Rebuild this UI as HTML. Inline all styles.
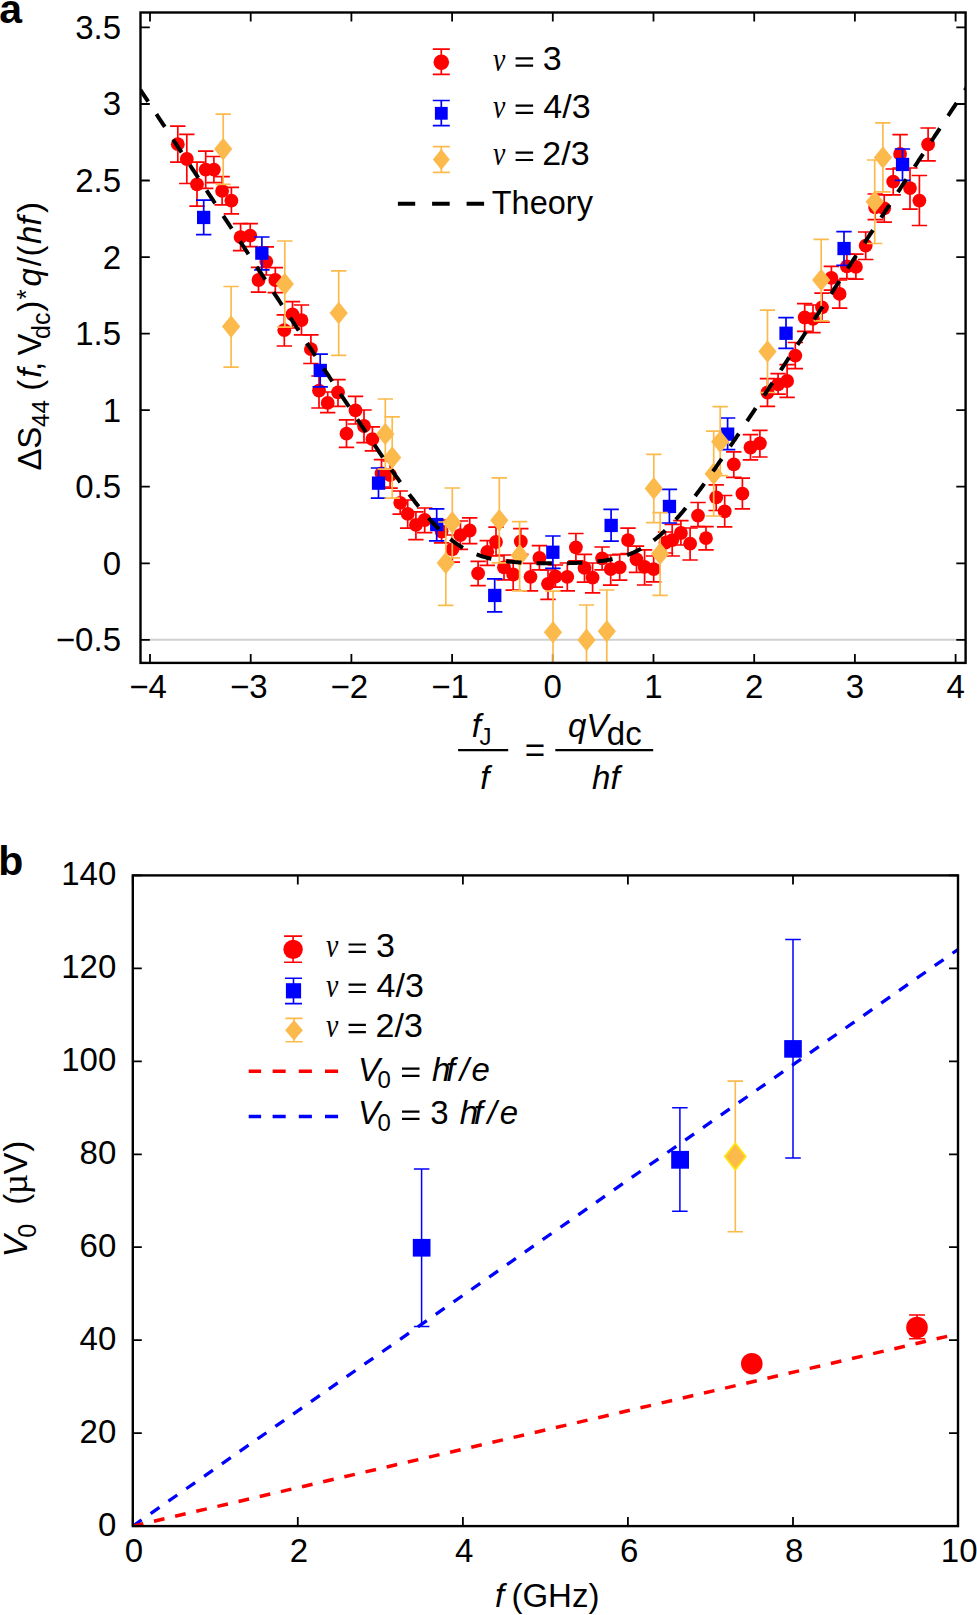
<!DOCTYPE html><html><head><meta charset="utf-8"><style>html,body{margin:0;padding:0;background:#fff;overflow:hidden}svg{display:block}</style></head><body>
<svg width="977" height="1615" viewBox="0 0 977 1615">
<rect width="977" height="1615" fill="#fff"/>
<defs><clipPath id="ca"><rect x="140.5" y="12.5" width="825.1" height="650.4"/></clipPath><clipPath id="cb"><rect x="132.8" y="875.4" width="825.2" height="650.6999999999999"/></clipPath></defs>
<line x1="140.5" y1="639.8" x2="965.6" y2="639.8" stroke="#d0d0d0" stroke-width="2"/>
<path d="M150.0 662.9v-9M150.0 12.5v9M250.7 662.9v-9M250.7 12.5v9M351.4 662.9v-9M351.4 12.5v9M452.1 662.9v-9M452.1 12.5v9M552.8 662.9v-9M552.8 12.5v9M653.5 662.9v-9M653.5 12.5v9M754.2 662.9v-9M754.2 12.5v9M854.9 662.9v-9M854.9 12.5v9M955.6 662.9v-9M955.6 12.5v9M140.5 639.8h9.3M965.6 639.8h-9.3M140.5 563.3h9.3M965.6 563.3h-9.3M140.5 486.7h9.3M965.6 486.7h-9.3M140.5 410.2h9.3M965.6 410.2h-9.3M140.5 333.6h9.3M965.6 333.6h-9.3M140.5 257.1h9.3M965.6 257.1h-9.3M140.5 180.5h9.3M965.6 180.5h-9.3M140.5 104.0h9.3M965.6 104.0h-9.3M140.5 27.4h9.3M965.6 27.4h-9.3" stroke="#000" stroke-width="1.8" fill="none"/>
<g clip-path="url(#ca)">
<path d="M177.8 126.2V162.2M170.1 126.2H185.5M170.1 162.2H185.5" stroke="#ff0000" stroke-width="1.7" fill="none"/>
<path d="M186.8 134.4V183.5M179.1 134.4H194.5M179.1 183.5H194.5" stroke="#ff0000" stroke-width="1.7" fill="none"/>
<path d="M197.0 162.2V206.1M189.3 162.2H204.7M189.3 206.1H204.7" stroke="#ff0000" stroke-width="1.7" fill="none"/>
<path d="M205.7 151.1V188.4M198.0 151.1H213.4M198.0 188.4H213.4" stroke="#ff0000" stroke-width="1.7" fill="none"/>
<path d="M213.9 156.5V182.7M206.2 156.5H221.6M206.2 182.7H221.6" stroke="#ff0000" stroke-width="1.7" fill="none"/>
<path d="M222.1 176.6V204.8M214.4 176.6H229.8M214.4 204.8H229.8" stroke="#ff0000" stroke-width="1.7" fill="none"/>
<path d="M231.4 187.3V213.8M223.7 187.3H239.1M223.7 213.8H239.1" stroke="#ff0000" stroke-width="1.7" fill="none"/>
<path d="M240.6 223.6V250.7M232.9 223.6H248.3M232.9 250.7H248.3" stroke="#ff0000" stroke-width="1.7" fill="none"/>
<path d="M250.2 223.6V246.6M242.5 223.6H257.9M242.5 246.6H257.9" stroke="#ff0000" stroke-width="1.7" fill="none"/>
<path d="M266.3 246.9V275.0M258.6 246.9H274.0M258.6 275.0H274.0" stroke="#ff0000" stroke-width="1.7" fill="none"/>
<path d="M258.5 267.3V292.2M250.8 267.3H266.2M250.8 292.2H266.2" stroke="#ff0000" stroke-width="1.7" fill="none"/>
<path d="M275.3 267.7V292.7M267.6 267.7H283.0M267.6 292.7H283.0" stroke="#ff0000" stroke-width="1.7" fill="none"/>
<path d="M292.5 301.7V328.0M284.8 301.7H300.2M284.8 328.0H300.2" stroke="#ff0000" stroke-width="1.7" fill="none"/>
<path d="M301.5 305.0V334.8M293.8 305.0H309.2M293.8 334.8H309.2" stroke="#ff0000" stroke-width="1.7" fill="none"/>
<path d="M284.3 314.8V346.0M276.6 314.8H292.0M276.6 346.0H292.0" stroke="#ff0000" stroke-width="1.7" fill="none"/>
<path d="M310.9 334.8V363.5M303.2 334.8H318.6M303.2 363.5H318.6" stroke="#ff0000" stroke-width="1.7" fill="none"/>
<path d="M319.0 376.0V408.0M311.3 376.0H326.7M311.3 408.0H326.7" stroke="#ff0000" stroke-width="1.7" fill="none"/>
<path d="M327.7 392.0V412.7M320.0 392.0H335.4M320.0 412.7H335.4" stroke="#ff0000" stroke-width="1.7" fill="none"/>
<path d="M338.0 379.7V406.3M330.3 379.7H345.7M330.3 406.3H345.7" stroke="#ff0000" stroke-width="1.7" fill="none"/>
<path d="M355.5 396.4V424.0M347.8 396.4H363.2M347.8 424.0H363.2" stroke="#ff0000" stroke-width="1.7" fill="none"/>
<path d="M346.5 419.8V447.3M338.8 419.8H354.2M338.8 447.3H354.2" stroke="#ff0000" stroke-width="1.7" fill="none"/>
<path d="M364.0 410.0V442.7M356.3 410.0H371.7M356.3 442.7H371.7" stroke="#ff0000" stroke-width="1.7" fill="none"/>
<path d="M372.4 426.8V450.9M364.7 426.8H380.1M364.7 450.9H380.1" stroke="#ff0000" stroke-width="1.7" fill="none"/>
<path d="M381.5 459.7V487.0M373.8 459.7H389.2M373.8 487.0H389.2" stroke="#ff0000" stroke-width="1.7" fill="none"/>
<path d="M390.1 461.0V488.2M382.4 461.0H397.8M382.4 488.2H397.8" stroke="#ff0000" stroke-width="1.7" fill="none"/>
<path d="M400.2 491.0V514.2M392.5 491.0H407.9M392.5 514.2H407.9" stroke="#ff0000" stroke-width="1.7" fill="none"/>
<path d="M407.7 500.0V528.1M400.0 500.0H415.4M400.0 528.1H415.4" stroke="#ff0000" stroke-width="1.7" fill="none"/>
<path d="M415.9 511.8V539.6M408.2 511.8H423.6M408.2 539.6H423.6" stroke="#ff0000" stroke-width="1.7" fill="none"/>
<path d="M424.7 508.0V532.7M417.0 508.0H432.4M417.0 532.7H432.4" stroke="#ff0000" stroke-width="1.7" fill="none"/>
<path d="M441.6 520.0V542.9M433.9 520.0H449.3M433.9 542.9H449.3" stroke="#ff0000" stroke-width="1.7" fill="none"/>
<path d="M452.3 535.0V562.2M444.6 535.0H460.0M444.6 562.2H460.0" stroke="#ff0000" stroke-width="1.7" fill="none"/>
<path d="M460.4 521.0V549.4M452.7 521.0H468.1M452.7 549.4H468.1" stroke="#ff0000" stroke-width="1.7" fill="none"/>
<path d="M469.7 517.8V543.7M462.0 517.8H477.4M462.0 543.7H477.4" stroke="#ff0000" stroke-width="1.7" fill="none"/>
<path d="M478.1 561.4V585.7M470.4 561.4H485.8M470.4 585.7H485.8" stroke="#ff0000" stroke-width="1.7" fill="none"/>
<path d="M487.3 540.7V565.4M479.6 540.7H495.0M479.6 565.4H495.0" stroke="#ff0000" stroke-width="1.7" fill="none"/>
<path d="M496.0 527.2V555.8M488.3 527.2H503.7M488.3 555.8H503.7" stroke="#ff0000" stroke-width="1.7" fill="none"/>
<path d="M504.0 555.0V579.8M496.3 555.0H511.7M496.3 579.8H511.7" stroke="#ff0000" stroke-width="1.7" fill="none"/>
<path d="M513.2 560.0V590.2M505.5 560.0H520.9M505.5 590.2H520.9" stroke="#ff0000" stroke-width="1.7" fill="none"/>
<path d="M520.8 528.7V554.3M513.1 528.7H528.5M513.1 554.3H528.5" stroke="#ff0000" stroke-width="1.7" fill="none"/>
<path d="M530.5 563.4V590.9M522.8 563.4H538.2M522.8 590.9H538.2" stroke="#ff0000" stroke-width="1.7" fill="none"/>
<path d="M539.4 545.7V569.9M531.7 545.7H547.1M531.7 569.9H547.1" stroke="#ff0000" stroke-width="1.7" fill="none"/>
<path d="M548.0 570.0V599.4M540.3 570.0H555.7M540.3 599.4H555.7" stroke="#ff0000" stroke-width="1.7" fill="none"/>
<path d="M555.4 565.0V587.1M547.7 565.0H563.1M547.7 587.1H563.1" stroke="#ff0000" stroke-width="1.7" fill="none"/>
<path d="M567.3 563.0V590.9M559.6 563.0H575.0M559.6 590.9H575.0" stroke="#ff0000" stroke-width="1.7" fill="none"/>
<path d="M575.9 533.5V560.9M568.2 533.5H583.6M568.2 560.9H583.6" stroke="#ff0000" stroke-width="1.7" fill="none"/>
<path d="M584.5 554.3V582.2M576.8 554.3H592.2M576.8 582.2H592.2" stroke="#ff0000" stroke-width="1.7" fill="none"/>
<path d="M592.6 563.0V592.8M584.9 563.0H600.3M584.9 592.8H600.3" stroke="#ff0000" stroke-width="1.7" fill="none"/>
<path d="M602.1 547.0V569.9M594.4 547.0H609.8M594.4 569.9H609.8" stroke="#ff0000" stroke-width="1.7" fill="none"/>
<path d="M610.7 555.0V585.1M603.0 555.0H618.4M603.0 585.1H618.4" stroke="#ff0000" stroke-width="1.7" fill="none"/>
<path d="M619.7 554.3V580.2M612.0 554.3H627.4M612.0 580.2H627.4" stroke="#ff0000" stroke-width="1.7" fill="none"/>
<path d="M628.0 528.1V553.5M620.3 528.1H635.7M620.3 553.5H635.7" stroke="#ff0000" stroke-width="1.7" fill="none"/>
<path d="M636.5 546.2V572.4M628.8 546.2H644.2M628.8 572.4H644.2" stroke="#ff0000" stroke-width="1.7" fill="none"/>
<path d="M644.6 549.9V585.0M636.9 549.9H652.3M636.9 585.0H652.3" stroke="#ff0000" stroke-width="1.7" fill="none"/>
<path d="M653.7 556.0V581.8M646.0 556.0H661.4M646.0 581.8H661.4" stroke="#ff0000" stroke-width="1.7" fill="none"/>
<path d="M665.5 532.0V553.0M657.8 532.0H673.2M657.8 553.0H673.2" stroke="#ff0000" stroke-width="1.7" fill="none"/>
<path d="M672.2 524.3V556.0M664.5 524.3H679.9M664.5 556.0H679.9" stroke="#ff0000" stroke-width="1.7" fill="none"/>
<path d="M680.9 520.6V545.0M673.2 520.6H688.6M673.2 545.0H688.6" stroke="#ff0000" stroke-width="1.7" fill="none"/>
<path d="M690.1 528.0V560.0M682.4 528.0H697.8M682.4 560.0H697.8" stroke="#ff0000" stroke-width="1.7" fill="none"/>
<path d="M706.0 526.7V549.9M698.3 526.7H713.7M698.3 549.9H713.7" stroke="#ff0000" stroke-width="1.7" fill="none"/>
<path d="M698.0 502.5V526.6M690.3 502.5H705.7M690.3 526.6H705.7" stroke="#ff0000" stroke-width="1.7" fill="none"/>
<path d="M716.2 484.8V510.5M708.5 484.8H723.9M708.5 510.5H723.9" stroke="#ff0000" stroke-width="1.7" fill="none"/>
<path d="M724.7 495.5V526.9M717.0 495.5H732.4M717.0 526.9H732.4" stroke="#ff0000" stroke-width="1.7" fill="none"/>
<path d="M742.4 478.1V508.9M734.7 478.1H750.1M734.7 508.9H750.1" stroke="#ff0000" stroke-width="1.7" fill="none"/>
<path d="M733.8 451.9V477.3M726.1 451.9H741.5M726.1 477.3H741.5" stroke="#ff0000" stroke-width="1.7" fill="none"/>
<path d="M750.5 434.7V459.8M742.8 434.7H758.2M742.8 459.8H758.2" stroke="#ff0000" stroke-width="1.7" fill="none"/>
<path d="M759.9 430.3V457.0M752.2 430.3H767.6M752.2 457.0H767.6" stroke="#ff0000" stroke-width="1.7" fill="none"/>
<path d="M767.5 378.6V406.4M759.8 378.6H775.2M759.8 406.4H775.2" stroke="#ff0000" stroke-width="1.7" fill="none"/>
<path d="M778.1 373.6V394.1M770.4 373.6H785.8M770.4 394.1H785.8" stroke="#ff0000" stroke-width="1.7" fill="none"/>
<path d="M787.1 364.6V397.4M779.4 364.6H794.8M779.4 397.4H794.8" stroke="#ff0000" stroke-width="1.7" fill="none"/>
<path d="M795.3 342.5V368.7M787.6 342.5H803.0M787.6 368.7H803.0" stroke="#ff0000" stroke-width="1.7" fill="none"/>
<path d="M804.7 303.7V331.4M797.0 303.7H812.4M797.0 331.4H812.4" stroke="#ff0000" stroke-width="1.7" fill="none"/>
<path d="M813.0 305.0V332.7M805.3 305.0H820.7M805.3 332.7H820.7" stroke="#ff0000" stroke-width="1.7" fill="none"/>
<path d="M822.0 293.1V322.1M814.3 293.1H829.7M814.3 322.1H829.7" stroke="#ff0000" stroke-width="1.7" fill="none"/>
<path d="M831.4 266.4V290.1M823.7 266.4H839.1M823.7 290.1H839.1" stroke="#ff0000" stroke-width="1.7" fill="none"/>
<path d="M839.6 280.0V308.1M831.9 280.0H847.3M831.9 308.1H847.3" stroke="#ff0000" stroke-width="1.7" fill="none"/>
<path d="M846.9 254.0V278.7M839.2 254.0H854.6M839.2 278.7H854.6" stroke="#ff0000" stroke-width="1.7" fill="none"/>
<path d="M855.9 254.1V279.2M848.2 254.1H863.6M848.2 279.2H863.6" stroke="#ff0000" stroke-width="1.7" fill="none"/>
<path d="M865.7 232.0V259.5M858.0 232.0H873.4M858.0 259.5H873.4" stroke="#ff0000" stroke-width="1.7" fill="none"/>
<path d="M875.2 194.0V219.7M867.5 194.0H882.9M867.5 219.7H882.9" stroke="#ff0000" stroke-width="1.7" fill="none"/>
<path d="M884.2 194.8V222.2M876.5 194.8H891.9M876.5 222.2H891.9" stroke="#ff0000" stroke-width="1.7" fill="none"/>
<path d="M893.2 169.0V194.8M885.5 169.0H900.9M885.5 194.8H900.9" stroke="#ff0000" stroke-width="1.7" fill="none"/>
<path d="M900.1 134.6V168.0M892.4 134.6H907.8M892.4 168.0H907.8" stroke="#ff0000" stroke-width="1.7" fill="none"/>
<path d="M910.0 168.0V209.1M902.3 168.0H917.7M902.3 209.1H917.7" stroke="#ff0000" stroke-width="1.7" fill="none"/>
<path d="M919.4 175.5V225.5M911.7 175.5H927.1M911.7 225.5H927.1" stroke="#ff0000" stroke-width="1.7" fill="none"/>
<path d="M928.1 128.0V160.8M920.4 128.0H935.8M920.4 160.8H935.8" stroke="#ff0000" stroke-width="1.7" fill="none"/>
<circle cx="177.8" cy="144.2" r="6.9" fill="#ff0000"/>
<circle cx="186.8" cy="159.0" r="6.9" fill="#ff0000"/>
<circle cx="197.0" cy="184.3" r="6.9" fill="#ff0000"/>
<circle cx="205.7" cy="169.6" r="6.9" fill="#ff0000"/>
<circle cx="213.9" cy="169.6" r="6.9" fill="#ff0000"/>
<circle cx="222.1" cy="190.9" r="6.9" fill="#ff0000"/>
<circle cx="231.4" cy="200.7" r="6.9" fill="#ff0000"/>
<circle cx="240.6" cy="237.2" r="6.9" fill="#ff0000"/>
<circle cx="250.2" cy="235.6" r="6.9" fill="#ff0000"/>
<circle cx="266.3" cy="261.6" r="6.9" fill="#ff0000"/>
<circle cx="258.5" cy="280.0" r="6.9" fill="#ff0000"/>
<circle cx="275.3" cy="280.0" r="6.9" fill="#ff0000"/>
<circle cx="292.5" cy="314.3" r="6.9" fill="#ff0000"/>
<circle cx="301.5" cy="320.1" r="6.9" fill="#ff0000"/>
<circle cx="284.3" cy="330.2" r="6.9" fill="#ff0000"/>
<circle cx="310.9" cy="349.2" r="6.9" fill="#ff0000"/>
<circle cx="319.0" cy="390.6" r="6.9" fill="#ff0000"/>
<circle cx="327.7" cy="402.9" r="6.9" fill="#ff0000"/>
<circle cx="338.0" cy="392.3" r="6.9" fill="#ff0000"/>
<circle cx="355.5" cy="410.4" r="6.9" fill="#ff0000"/>
<circle cx="346.5" cy="433.7" r="6.9" fill="#ff0000"/>
<circle cx="364.0" cy="426.0" r="6.9" fill="#ff0000"/>
<circle cx="372.4" cy="439.1" r="6.9" fill="#ff0000"/>
<circle cx="381.5" cy="473.5" r="6.9" fill="#ff0000"/>
<circle cx="390.1" cy="475.0" r="6.9" fill="#ff0000"/>
<circle cx="400.2" cy="502.8" r="6.9" fill="#ff0000"/>
<circle cx="407.7" cy="513.9" r="6.9" fill="#ff0000"/>
<circle cx="415.9" cy="524.9" r="6.9" fill="#ff0000"/>
<circle cx="424.7" cy="520.0" r="6.9" fill="#ff0000"/>
<circle cx="441.6" cy="531.5" r="6.9" fill="#ff0000"/>
<circle cx="452.3" cy="549.3" r="6.9" fill="#ff0000"/>
<circle cx="460.4" cy="535.2" r="6.9" fill="#ff0000"/>
<circle cx="469.7" cy="530.5" r="6.9" fill="#ff0000"/>
<circle cx="478.1" cy="573.4" r="6.9" fill="#ff0000"/>
<circle cx="487.3" cy="551.8" r="6.9" fill="#ff0000"/>
<circle cx="496.0" cy="542.0" r="6.9" fill="#ff0000"/>
<circle cx="504.0" cy="567.4" r="6.9" fill="#ff0000"/>
<circle cx="513.2" cy="574.5" r="6.9" fill="#ff0000"/>
<circle cx="520.8" cy="541.5" r="6.9" fill="#ff0000"/>
<circle cx="530.5" cy="576.8" r="6.9" fill="#ff0000"/>
<circle cx="539.4" cy="557.9" r="6.9" fill="#ff0000"/>
<circle cx="548.0" cy="583.8" r="6.9" fill="#ff0000"/>
<circle cx="555.4" cy="576.5" r="6.9" fill="#ff0000"/>
<circle cx="567.3" cy="576.8" r="6.9" fill="#ff0000"/>
<circle cx="575.9" cy="547.3" r="6.9" fill="#ff0000"/>
<circle cx="584.5" cy="567.9" r="6.9" fill="#ff0000"/>
<circle cx="592.6" cy="577.6" r="6.9" fill="#ff0000"/>
<circle cx="602.1" cy="558.4" r="6.9" fill="#ff0000"/>
<circle cx="610.7" cy="569.1" r="6.9" fill="#ff0000"/>
<circle cx="619.7" cy="567.4" r="6.9" fill="#ff0000"/>
<circle cx="628.0" cy="540.1" r="6.9" fill="#ff0000"/>
<circle cx="636.5" cy="559.4" r="6.9" fill="#ff0000"/>
<circle cx="644.6" cy="566.9" r="6.9" fill="#ff0000"/>
<circle cx="653.7" cy="569.2" r="6.9" fill="#ff0000"/>
<circle cx="665.5" cy="542.7" r="6.9" fill="#ff0000"/>
<circle cx="672.2" cy="540.2" r="6.9" fill="#ff0000"/>
<circle cx="680.9" cy="533.0" r="6.9" fill="#ff0000"/>
<circle cx="690.1" cy="543.7" r="6.9" fill="#ff0000"/>
<circle cx="706.0" cy="538.2" r="6.9" fill="#ff0000"/>
<circle cx="698.0" cy="515.6" r="6.9" fill="#ff0000"/>
<circle cx="716.2" cy="497.4" r="6.9" fill="#ff0000"/>
<circle cx="724.7" cy="511.4" r="6.9" fill="#ff0000"/>
<circle cx="742.4" cy="493.7" r="6.9" fill="#ff0000"/>
<circle cx="733.8" cy="464.4" r="6.9" fill="#ff0000"/>
<circle cx="750.5" cy="447.5" r="6.9" fill="#ff0000"/>
<circle cx="759.9" cy="443.4" r="6.9" fill="#ff0000"/>
<circle cx="767.5" cy="392.5" r="6.9" fill="#ff0000"/>
<circle cx="778.1" cy="384.3" r="6.9" fill="#ff0000"/>
<circle cx="787.1" cy="381.0" r="6.9" fill="#ff0000"/>
<circle cx="795.3" cy="355.6" r="6.9" fill="#ff0000"/>
<circle cx="804.7" cy="317.5" r="6.9" fill="#ff0000"/>
<circle cx="813.0" cy="318.8" r="6.9" fill="#ff0000"/>
<circle cx="822.0" cy="307.3" r="6.9" fill="#ff0000"/>
<circle cx="831.4" cy="277.8" r="6.9" fill="#ff0000"/>
<circle cx="839.6" cy="293.9" r="6.9" fill="#ff0000"/>
<circle cx="846.9" cy="266.4" r="6.9" fill="#ff0000"/>
<circle cx="855.9" cy="266.9" r="6.9" fill="#ff0000"/>
<circle cx="865.7" cy="245.6" r="6.9" fill="#ff0000"/>
<circle cx="875.2" cy="207.4" r="6.9" fill="#ff0000"/>
<circle cx="884.2" cy="208.3" r="6.9" fill="#ff0000"/>
<circle cx="893.2" cy="181.6" r="6.9" fill="#ff0000"/>
<circle cx="900.1" cy="153.9" r="6.9" fill="#ff0000"/>
<circle cx="910.0" cy="188.1" r="6.9" fill="#ff0000"/>
<circle cx="919.4" cy="200.6" r="6.9" fill="#ff0000"/>
<circle cx="928.1" cy="144.4" r="6.9" fill="#ff0000"/>
<path d="M203.7 200.2V234.6M196.0 200.2H211.4M196.0 234.6H211.4" stroke="#0000ff" stroke-width="1.7" fill="none"/>
<rect x="197.0" y="210.8" width="13.3" height="13.3" fill="#0000ff"/>
<path d="M261.9 237.0V269.8M254.2 237.0H269.6M254.2 269.8H269.6" stroke="#0000ff" stroke-width="1.7" fill="none"/>
<rect x="255.2" y="246.5" width="13.3" height="13.3" fill="#0000ff"/>
<path d="M320.2 354.1V386.9M312.5 354.1H327.9M312.5 386.9H327.9" stroke="#0000ff" stroke-width="1.7" fill="none"/>
<rect x="313.6" y="363.8" width="13.3" height="13.3" fill="#0000ff"/>
<path d="M378.5 468.0V498.2M370.8 468.0H386.2M370.8 498.2H386.2" stroke="#0000ff" stroke-width="1.7" fill="none"/>
<rect x="371.9" y="476.5" width="13.3" height="13.3" fill="#0000ff"/>
<path d="M436.7 508.8V540.8M429.0 508.8H444.4M429.0 540.8H444.4" stroke="#0000ff" stroke-width="1.7" fill="none"/>
<rect x="430.1" y="517.9" width="13.3" height="13.3" fill="#0000ff"/>
<path d="M494.7 578.9V611.9M487.0 578.9H502.4M487.0 611.9H502.4" stroke="#0000ff" stroke-width="1.7" fill="none"/>
<rect x="488.1" y="588.8" width="13.3" height="13.3" fill="#0000ff"/>
<path d="M552.9 536.0V568.3M545.2 536.0H560.6M545.2 568.3H560.6" stroke="#0000ff" stroke-width="1.7" fill="none"/>
<rect x="546.2" y="545.6" width="13.3" height="13.3" fill="#0000ff"/>
<path d="M611.1 509.3V541.2M603.4 509.3H618.8M603.4 541.2H618.8" stroke="#0000ff" stroke-width="1.7" fill="none"/>
<rect x="604.5" y="518.8" width="13.3" height="13.3" fill="#0000ff"/>
<path d="M669.4 489.3V523.0M661.7 489.3H677.1M661.7 523.0H677.1" stroke="#0000ff" stroke-width="1.7" fill="none"/>
<rect x="662.8" y="499.8" width="13.3" height="13.3" fill="#0000ff"/>
<path d="M727.6 418.0V449.6M719.9 418.0H735.3M719.9 449.6H735.3" stroke="#0000ff" stroke-width="1.7" fill="none"/>
<rect x="721.0" y="427.5" width="13.3" height="13.3" fill="#0000ff"/>
<path d="M786.0 317.6V348.3M778.3 317.6H793.7M778.3 348.3H793.7" stroke="#0000ff" stroke-width="1.7" fill="none"/>
<rect x="779.4" y="326.6" width="13.3" height="13.3" fill="#0000ff"/>
<path d="M844.0 231.7V265.3M836.3 231.7H851.7M836.3 265.3H851.7" stroke="#0000ff" stroke-width="1.7" fill="none"/>
<rect x="837.4" y="241.9" width="13.3" height="13.3" fill="#0000ff"/>
<path d="M902.5 149.0V180.4M894.8 149.0H910.2M894.8 180.4H910.2" stroke="#0000ff" stroke-width="1.7" fill="none"/>
<rect x="895.9" y="157.8" width="13.3" height="13.3" fill="#0000ff"/>
<path d="M223.2 114.2V184.3M215.5 114.2H230.9M215.5 184.3H230.9" stroke="#fcba4c" stroke-width="1.7" fill="none"/>
<path d="M223.2 137.8L232.3 149.1L223.2 160.4L214.1 149.1Z" fill="#fcba4c"/>
<path d="M231.1 286.5V367.1M223.4 286.5H238.8M223.4 367.1H238.8" stroke="#fcba4c" stroke-width="1.7" fill="none"/>
<path d="M231.1 315.3L240.2 326.6L231.1 337.9L222.0 326.6Z" fill="#fcba4c"/>
<path d="M284.8 241.0V327.1M277.1 241.0H292.5M277.1 327.1H292.5" stroke="#fcba4c" stroke-width="1.7" fill="none"/>
<path d="M284.8 272.7L293.9 284.0L284.8 295.3L275.7 284.0Z" fill="#fcba4c"/>
<path d="M338.7 270.9V355.3M331.0 270.9H346.4M331.0 355.3H346.4" stroke="#fcba4c" stroke-width="1.7" fill="none"/>
<path d="M338.7 301.7L347.8 313.0L338.7 324.3L329.6 313.0Z" fill="#fcba4c"/>
<path d="M385.3 399.0V469.2M377.6 399.0H393.0M377.6 469.2H393.0" stroke="#fcba4c" stroke-width="1.7" fill="none"/>
<path d="M385.3 422.7L394.4 434.0L385.3 445.3L376.2 434.0Z" fill="#fcba4c"/>
<path d="M392.2 416.8V498.2M384.5 416.8H399.9M384.5 498.2H399.9" stroke="#fcba4c" stroke-width="1.7" fill="none"/>
<path d="M392.2 446.2L401.3 457.5L392.2 468.8L383.1 457.5Z" fill="#fcba4c"/>
<path d="M445.8 522.0V605.4M438.1 522.0H453.5M438.1 605.4H453.5" stroke="#fcba4c" stroke-width="1.7" fill="none"/>
<path d="M445.8 551.7L454.9 563.0L445.8 574.3L436.7 563.0Z" fill="#fcba4c"/>
<path d="M452.3 488.0V557.9M444.6 488.0H460.0M444.6 557.9H460.0" stroke="#fcba4c" stroke-width="1.7" fill="none"/>
<path d="M452.3 511.1L461.4 522.4L452.3 533.7L443.2 522.4Z" fill="#fcba4c"/>
<path d="M499.3 477.9V562.8M491.6 477.9H507.0M491.6 562.8H507.0" stroke="#fcba4c" stroke-width="1.7" fill="none"/>
<path d="M499.3 509.0L508.4 520.3L499.3 531.6L490.2 520.3Z" fill="#fcba4c"/>
<path d="M519.6 521.7V590.8M511.9 521.7H527.3M511.9 590.8H527.3" stroke="#fcba4c" stroke-width="1.7" fill="none"/>
<path d="M519.6 544.1L528.7 555.4L519.6 566.7L510.5 555.4Z" fill="#fcba4c"/>
<path d="M553.0 591.1V664.0M545.3 591.1H560.7M545.3 664.0H560.7" stroke="#fcba4c" stroke-width="1.7" fill="none"/>
<path d="M553.0 621.0L562.1 632.3L553.0 643.6L543.9 632.3Z" fill="#fcba4c"/>
<path d="M586.5 605.0V664.0M578.8 605.0H594.2M578.8 664.0H594.2" stroke="#fcba4c" stroke-width="1.7" fill="none"/>
<path d="M586.5 628.6L595.6 639.9L586.5 651.2L577.4 639.9Z" fill="#fcba4c"/>
<path d="M606.8 590.0V664.0M599.1 590.0H614.5M599.1 664.0H614.5" stroke="#fcba4c" stroke-width="1.7" fill="none"/>
<path d="M606.8 619.9L615.9 631.2L606.8 642.5L597.7 631.2Z" fill="#fcba4c"/>
<path d="M653.8 454.4V522.7M646.1 454.4H661.5M646.1 522.7H661.5" stroke="#fcba4c" stroke-width="1.7" fill="none"/>
<path d="M653.8 477.1L662.9 488.4L653.8 499.7L644.7 488.4Z" fill="#fcba4c"/>
<path d="M660.1 512.7V595.3M652.4 512.7H667.8M652.4 595.3H667.8" stroke="#fcba4c" stroke-width="1.7" fill="none"/>
<path d="M660.1 542.5L669.2 553.8L660.1 565.1L651.0 553.8Z" fill="#fcba4c"/>
<path d="M713.7 431.1V516.0M706.0 431.1H721.4M706.0 516.0H721.4" stroke="#fcba4c" stroke-width="1.7" fill="none"/>
<path d="M713.7 462.4L722.8 473.7L713.7 485.0L704.6 473.7Z" fill="#fcba4c"/>
<path d="M720.2 406.6V475.7M712.5 406.6H727.9M712.5 475.7H727.9" stroke="#fcba4c" stroke-width="1.7" fill="none"/>
<path d="M720.2 430.5L729.3 441.8L720.2 453.1L711.1 441.8Z" fill="#fcba4c"/>
<path d="M767.5 310.1V392.5M759.8 310.1H775.2M759.8 392.5H775.2" stroke="#fcba4c" stroke-width="1.7" fill="none"/>
<path d="M767.5 340.2L776.6 351.5L767.5 362.8L758.4 351.5Z" fill="#fcba4c"/>
<path d="M821.2 239.4V320.9M813.5 239.4H828.9M813.5 320.9H828.9" stroke="#fcba4c" stroke-width="1.7" fill="none"/>
<path d="M821.2 268.7L830.3 280.0L821.2 291.3L812.1 280.0Z" fill="#fcba4c"/>
<path d="M874.7 160.0V243.5M867.0 160.0H882.4M867.0 243.5H882.4" stroke="#fcba4c" stroke-width="1.7" fill="none"/>
<path d="M874.7 190.4L883.8 201.7L874.7 213.0L865.6 201.7Z" fill="#fcba4c"/>
<path d="M882.9 122.8V191.9M875.2 122.8H890.6M875.2 191.9H890.6" stroke="#fcba4c" stroke-width="1.7" fill="none"/>
<path d="M882.9 146.2L892.0 157.5L882.9 168.8L873.8 157.5Z" fill="#fcba4c"/>
<polyline points="140.50,89.97 141.51,91.50 142.51,93.03 143.52,94.56 144.53,96.10 145.53,97.63 146.54,99.16 147.55,100.69 148.56,102.22 149.56,103.75 150.57,105.28 151.58,106.81 152.58,108.34 153.59,109.87 154.60,111.41 155.60,112.94 156.61,114.47 157.62,116.00 158.63,117.53 159.63,119.06 160.64,120.59 161.65,122.12 162.65,123.65 163.66,125.18 164.67,126.72 165.67,128.25 166.68,129.78 167.69,131.31 168.70,132.84 169.70,134.37 170.71,135.90 171.72,137.43 172.72,138.96 173.73,140.49 174.74,142.03 175.74,143.56 176.75,145.09 177.76,146.62 178.77,148.15 179.77,149.68 180.78,151.21 181.79,152.74 182.79,154.27 183.80,155.80 184.81,157.34 185.81,158.87 186.82,160.40 187.83,161.93 188.84,163.46 189.84,164.99 190.85,166.52 191.86,168.05 192.86,169.58 193.87,171.11 194.88,172.65 195.88,174.18 196.89,175.71 197.90,177.24 198.91,178.77 199.91,180.30 200.92,181.83 201.93,183.36 202.93,184.89 203.94,186.42 204.95,187.96 205.95,189.49 206.96,191.02 207.97,192.55 208.98,194.08 209.98,195.61 210.99,197.14 212.00,198.67 213.00,200.20 214.01,201.73 215.02,203.27 216.02,204.80 217.03,206.33 218.04,207.86 219.05,209.39 220.05,210.92 221.06,212.45 222.07,213.98 223.07,215.51 224.08,217.04 225.09,218.58 226.09,220.11 227.10,221.64 228.11,223.17 229.12,224.70 230.12,226.23 231.13,227.76 232.14,229.29 233.14,230.82 234.15,232.35 235.16,233.89 236.16,235.42 237.17,236.95 238.18,238.48 239.19,240.01 240.19,241.54 241.20,243.07 242.21,244.60 243.21,246.13 244.22,247.66 245.23,249.20 246.23,250.73 247.24,252.26 248.25,253.79 249.26,255.32 250.26,256.85 251.27,258.38 252.28,259.91 253.28,261.44 254.29,262.97 255.30,264.50 256.30,266.04 257.31,267.57 258.32,269.10 259.33,270.63 260.33,272.16 261.34,273.69 262.35,275.22 263.35,276.75 264.36,278.28 265.37,279.81 266.37,281.35 267.38,282.88 268.39,284.41 269.40,285.94 270.40,287.47 271.41,289.00 272.42,290.53 273.42,292.06 274.43,293.59 275.44,295.12 276.44,296.65 277.45,298.18 278.46,299.72 279.47,301.25 280.47,302.78 281.48,304.31 282.49,305.84 283.49,307.37 284.50,308.90 285.51,310.43 286.51,311.96 287.52,313.49 288.53,315.02 289.54,316.55 290.54,318.08 291.55,319.62 292.56,321.15 293.56,322.68 294.57,324.21 295.58,325.74 296.58,327.27 297.59,328.80 298.60,330.33 299.61,331.86 300.61,333.39 301.62,334.92 302.63,336.45 303.63,337.98 304.64,339.51 305.65,341.04 306.65,342.57 307.66,344.10 308.67,345.63 309.68,347.16 310.68,348.69 311.69,350.22 312.70,351.75 313.70,353.28 314.71,354.81 315.72,356.34 316.72,357.87 317.73,359.40 318.74,360.93 319.75,362.46 320.75,363.98 321.76,365.51 322.77,367.04 323.77,368.57 324.78,370.10 325.79,371.63 326.79,373.16 327.80,374.68 328.81,376.21 329.82,377.74 330.82,379.27 331.83,380.79 332.84,382.32 333.84,383.85 334.85,385.37 335.86,386.90 336.86,388.43 337.87,389.95 338.88,391.48 339.89,393.00 340.89,394.53 341.90,396.05 342.91,397.57 343.91,399.10 344.92,400.62 345.93,402.14 346.93,403.66 347.94,405.19 348.95,406.71 349.96,408.23 350.96,409.75 351.97,411.27 352.98,412.79 353.98,414.30 354.99,415.82 356.00,417.34 357.00,418.85 358.01,420.37 359.02,421.88 360.03,423.40 361.03,424.91 362.04,426.42 363.05,427.93 364.05,429.44 365.06,430.94 366.07,432.45 367.07,433.96 368.08,435.46 369.09,436.96 370.10,438.46 371.10,439.96 372.11,441.46 373.12,442.95 374.12,444.45 375.13,445.94 376.14,447.43 377.14,448.92 378.15,450.40 379.16,451.88 380.17,453.36 381.17,454.84 382.18,456.32 383.19,457.79 384.19,459.26 385.20,460.72 386.21,462.19 387.21,463.65 388.22,465.10 389.23,466.56 390.24,468.00 391.24,469.45 392.25,470.89 393.26,472.33 394.26,473.76 395.27,475.19 396.28,476.61 397.28,478.02 398.29,479.44 399.30,480.84 400.31,482.24 401.31,483.64 402.32,485.03 403.33,486.41 404.33,487.78 405.34,489.15 406.35,490.51 407.35,491.87 408.36,493.22 409.37,494.55 410.38,495.89 411.38,497.21 412.39,498.52 413.40,499.83 414.40,501.12 415.41,502.41 416.42,503.69 417.42,504.95 418.43,506.21 419.44,507.45 420.45,508.69 421.45,509.91 422.46,511.13 423.47,512.33 424.47,513.51 425.48,514.69 426.49,515.85 427.49,517.01 428.50,518.14 429.51,519.27 430.52,520.38 431.52,521.48 432.53,522.56 433.54,523.63 434.54,524.68 435.55,525.72 436.56,526.75 437.56,527.76 438.57,528.75 439.58,529.73 440.59,530.69 441.59,531.64 442.60,532.57 443.61,533.48 444.61,534.38 445.62,535.26 446.63,536.13 447.63,536.98 448.64,537.81 449.65,538.62 450.66,539.42 451.66,540.20 452.67,540.97 453.68,541.71 454.68,542.44 455.69,543.16 456.70,543.85 457.70,544.54 458.71,545.20 459.72,545.85 460.73,546.48 461.73,547.09 462.74,547.69 463.75,548.27 464.75,548.84 465.76,549.39 466.77,549.92 467.77,550.44 468.78,550.95 469.79,551.44 470.80,551.91 471.80,552.37 472.81,552.82 473.82,553.25 474.82,553.67 475.83,554.07 476.84,554.46 477.84,554.84 478.85,555.21 479.86,555.56 480.87,555.90 481.87,556.23 482.88,556.55 483.89,556.85 484.89,557.14 485.90,557.43 486.91,557.70 487.91,557.96 488.92,558.22 489.93,558.46 490.94,558.69 491.94,558.92 492.95,559.13 493.96,559.34 494.96,559.54 495.97,559.73 496.98,559.91 497.98,560.09 498.99,560.26 500.00,560.42 501.01,560.57 502.01,560.72 503.02,560.86 504.03,560.99 505.03,561.12 506.04,561.25 507.05,561.36 508.05,561.48 509.06,561.58 510.07,561.69 511.08,561.78 512.08,561.88 513.09,561.96 514.10,562.05 515.10,562.13 516.11,562.21 517.12,562.28 518.12,562.35 519.13,562.41 520.14,562.48 521.15,562.54 522.15,562.59 523.16,562.65 524.17,562.70 525.17,562.74 526.18,562.79 527.19,562.83 528.19,562.87 529.20,562.91 530.21,562.95 531.22,562.98 532.22,563.01 533.23,563.04 534.24,563.07 535.24,563.09 536.25,563.12 537.26,563.14 538.26,563.16 539.27,563.18 540.28,563.20 541.29,563.21 542.29,563.23 543.30,563.24 544.31,563.25 545.31,563.26 546.32,563.27 547.33,563.28 548.33,563.29 549.34,563.29 550.35,563.30 551.36,563.30 552.36,563.30 553.37,563.30 554.38,563.30 555.38,563.30 556.39,563.29 557.40,563.29 558.40,563.28 559.41,563.27 560.42,563.26 561.43,563.25 562.43,563.24 563.44,563.23 564.45,563.21 565.45,563.20 566.46,563.18 567.47,563.16 568.47,563.14 569.48,563.12 570.49,563.09 571.50,563.07 572.50,563.04 573.51,563.01 574.52,562.98 575.52,562.94 576.53,562.90 577.54,562.87 578.54,562.83 579.55,562.78 580.56,562.74 581.57,562.69 582.57,562.64 583.58,562.58 584.59,562.53 585.59,562.47 586.60,562.41 587.61,562.34 588.61,562.27 589.62,562.20 590.63,562.12 591.64,562.04 592.64,561.95 593.65,561.86 594.66,561.77 595.66,561.67 596.67,561.57 597.68,561.46 598.68,561.35 599.69,561.23 600.70,561.11 601.71,560.98 602.71,560.84 603.72,560.70 604.73,560.55 605.73,560.40 606.74,560.23 607.75,560.07 608.75,559.89 609.76,559.71 610.77,559.51 611.78,559.31 612.78,559.11 613.79,558.89 614.80,558.66 615.80,558.43 616.81,558.18 617.82,557.93 618.82,557.67 619.83,557.39 620.84,557.11 621.85,556.81 622.85,556.50 623.86,556.19 624.87,555.86 625.87,555.51 626.88,555.16 627.89,554.79 628.89,554.41 629.90,554.02 630.91,553.61 631.92,553.19 632.92,552.76 633.93,552.31 634.94,551.85 635.94,551.37 636.95,550.88 637.96,550.38 638.96,549.85 639.97,549.32 640.98,548.76 641.99,548.20 642.99,547.61 644.00,547.01 645.01,546.39 646.01,545.76 647.02,545.11 648.03,544.45 649.03,543.76 650.04,543.06 651.05,542.35 652.06,541.62 653.06,540.87 654.07,540.10 655.08,539.32 656.08,538.52 657.09,537.70 658.10,536.86 659.10,536.01 660.11,535.15 661.12,534.26 662.13,533.36 663.13,532.45 664.14,531.51 665.15,530.57 666.15,529.60 667.16,528.62 668.17,527.62 669.17,526.61 670.18,525.59 671.19,524.54 672.20,523.49 673.20,522.42 674.21,521.33 675.22,520.23 676.22,519.12 677.23,517.99 678.24,516.85 679.24,515.70 680.25,514.54 681.26,513.36 682.27,512.17 683.27,510.97 684.28,509.75 685.29,508.53 686.29,507.29 687.30,506.04 688.31,504.79 689.31,503.52 690.32,502.24 691.33,500.95 692.34,499.65 693.34,498.35 694.35,497.03 695.36,495.71 696.36,494.38 697.37,493.04 698.38,491.69 699.38,490.34 700.39,488.97 701.40,487.60 702.41,486.23 703.41,484.84 704.42,483.45 705.43,482.06 706.43,480.66 707.44,479.25 708.45,477.84 709.45,476.42 710.46,475.00 711.47,473.57 712.48,472.14 713.48,470.70 714.49,469.26 715.50,467.81 716.50,466.36 717.51,464.91 718.52,463.46 719.52,461.99 720.53,460.53 721.54,459.06 722.55,457.59 723.55,456.12 724.56,454.65 725.57,453.17 726.57,451.69 727.58,450.20 728.59,448.72 729.59,447.23 730.60,445.74 731.61,444.25 732.62,442.76 733.62,441.26 734.63,439.76 735.64,438.26 736.64,436.76 737.65,435.26 738.66,433.76 739.66,432.25 740.67,430.75 741.68,429.24 742.69,427.73 743.69,426.22 744.70,424.71 745.71,423.20 746.71,421.68 747.72,420.17 748.73,418.65 749.73,417.14 750.74,415.62 751.75,414.10 752.76,412.59 753.76,411.07 754.77,409.55 755.78,408.03 756.78,406.51 757.79,404.99 758.80,403.46 759.80,401.94 760.81,400.42 761.82,398.90 762.83,397.37 763.83,395.85 764.84,394.32 765.85,392.80 766.85,391.27 767.86,389.75 768.87,388.22 769.87,386.70 770.88,385.17 771.89,383.65 772.90,382.12 773.90,380.59 774.91,379.06 775.92,377.54 776.92,376.01 777.93,374.48 778.94,372.95 779.94,371.43 780.95,369.90 781.96,368.37 782.97,366.84 783.97,365.31 784.98,363.78 785.99,362.25 786.99,360.72 788.00,359.20 789.01,357.67 790.01,356.14 791.02,354.61 792.03,353.08 793.04,351.55 794.04,350.02 795.05,348.49 796.06,346.96 797.06,345.43 798.07,343.90 799.08,342.37 800.08,340.84 801.09,339.31 802.10,337.78 803.11,336.25 804.11,334.72 805.12,333.19 806.13,331.66 807.13,330.13 808.14,328.60 809.15,327.07 810.15,325.54 811.16,324.00 812.17,322.47 813.18,320.94 814.18,319.41 815.19,317.88 816.20,316.35 817.20,314.82 818.21,313.29 819.22,311.76 820.22,310.23 821.23,308.70 822.24,307.17 823.25,305.64 824.25,304.11 825.26,302.58 826.27,301.04 827.27,299.51 828.28,297.98 829.29,296.45 830.29,294.92 831.30,293.39 832.31,291.86 833.32,290.33 834.32,288.80 835.33,287.27 836.34,285.74 837.34,284.20 838.35,282.67 839.36,281.14 840.36,279.61 841.37,278.08 842.38,276.55 843.39,275.02 844.39,273.49 845.40,271.96 846.41,270.43 847.41,268.90 848.42,267.36 849.43,265.83 850.43,264.30 851.44,262.77 852.45,261.24 853.46,259.71 854.46,258.18 855.47,256.65 856.48,255.12 857.48,253.59 858.49,252.05 859.50,250.52 860.50,248.99 861.51,247.46 862.52,245.93 863.53,244.40 864.53,242.87 865.54,241.34 866.55,239.81 867.55,238.28 868.56,236.75 869.57,235.21 870.57,233.68 871.58,232.15 872.59,230.62 873.60,229.09 874.60,227.56 875.61,226.03 876.62,224.50 877.62,222.97 878.63,221.44 879.64,219.90 880.64,218.37 881.65,216.84 882.66,215.31 883.67,213.78 884.67,212.25 885.68,210.72 886.69,209.19 887.69,207.66 888.70,206.13 889.71,204.59 890.71,203.06 891.72,201.53 892.73,200.00 893.74,198.47 894.74,196.94 895.75,195.41 896.76,193.88 897.76,192.35 898.77,190.82 899.78,189.28 900.78,187.75 901.79,186.22 902.80,184.69 903.81,183.16 904.81,181.63 905.82,180.10 906.83,178.57 907.83,177.04 908.84,175.51 909.85,173.97 910.85,172.44 911.86,170.91 912.87,169.38 913.88,167.85 914.88,166.32 915.89,164.79 916.90,163.26 917.90,161.73 918.91,160.20 919.92,158.66 920.92,157.13 921.93,155.60 922.94,154.07 923.95,152.54 924.95,151.01 925.96,149.48 926.97,147.95 927.97,146.42 928.98,144.89 929.99,143.35 930.99,141.82 932.00,140.29 933.01,138.76 934.02,137.23 935.02,135.70 936.03,134.17 937.04,132.64 938.04,131.11 939.05,129.58 940.06,128.04 941.06,126.51 942.07,124.98 943.08,123.45 944.09,121.92 945.09,120.39 946.10,118.86 947.11,117.33 948.11,115.80 949.12,114.27 950.13,112.73 951.13,111.20 952.14,109.67 953.15,108.14 954.16,106.61 955.16,105.08 956.17,103.55 957.18,102.02 958.18,100.49 959.19,98.96 960.20,97.42 961.20,95.89 962.21,94.36 963.22,92.83 964.23,91.30 965.23,89.77 966.24,88.24 967.25,86.71 968.25,85.18" fill="none" stroke="#000" stroke-width="4" stroke-dasharray="15.4 15.05" stroke-dashoffset="1.57"/>
</g>
<rect x="140.5" y="12.5" width="825.1" height="650.4" fill="none" stroke="#000" stroke-width="2.4"/>
<text x="121" y="38.8" font-family="Liberation Sans, sans-serif" font-size="33" text-anchor="end">3.5</text>
<text x="121" y="115.4" font-family="Liberation Sans, sans-serif" font-size="33" text-anchor="end">3</text>
<text x="121" y="191.9" font-family="Liberation Sans, sans-serif" font-size="33" text-anchor="end">2.5</text>
<text x="121" y="268.5" font-family="Liberation Sans, sans-serif" font-size="33" text-anchor="end">2</text>
<text x="121" y="345.0" font-family="Liberation Sans, sans-serif" font-size="33" text-anchor="end">1.5</text>
<text x="121" y="421.6" font-family="Liberation Sans, sans-serif" font-size="33" text-anchor="end">1</text>
<text x="121" y="498.1" font-family="Liberation Sans, sans-serif" font-size="33" text-anchor="end">0.5</text>
<text x="121" y="574.7" font-family="Liberation Sans, sans-serif" font-size="33" text-anchor="end">0</text>
<text x="121" y="651.2" font-family="Liberation Sans, sans-serif" font-size="33" text-anchor="end">−0.5</text>
<text x="148.0" y="698" font-family="Liberation Sans, sans-serif" font-size="33" text-anchor="middle">−4</text>
<text x="248.7" y="698" font-family="Liberation Sans, sans-serif" font-size="33" text-anchor="middle">−3</text>
<text x="349.4" y="698" font-family="Liberation Sans, sans-serif" font-size="33" text-anchor="middle">−2</text>
<text x="450.1" y="698" font-family="Liberation Sans, sans-serif" font-size="33" text-anchor="middle">−1</text>
<text x="552.8" y="698" font-family="Liberation Sans, sans-serif" font-size="33" text-anchor="middle">0</text>
<text x="653.5" y="698" font-family="Liberation Sans, sans-serif" font-size="33" text-anchor="middle">1</text>
<text x="754.2" y="698" font-family="Liberation Sans, sans-serif" font-size="33" text-anchor="middle">2</text>
<text x="854.9" y="698" font-family="Liberation Sans, sans-serif" font-size="33" text-anchor="middle">3</text>
<text x="955.6" y="698" font-family="Liberation Sans, sans-serif" font-size="33" text-anchor="middle">4</text>
<text x="-0.75" y="22.50" font-family="Liberation Sans, sans-serif" font-size="41" font-weight="bold" fill="#000">a</text>
<path d="M441.3 49.1V74.4M432.8 49.1H449.8M432.8 74.4H449.8" stroke="#ff0000" stroke-width="1.7" fill="none"/>
<circle cx="441.3" cy="62.2" r="7.8" fill="#ff0000"/>
<path d="M441.3 100.5V125.7M432.8 100.5H449.8M432.8 125.7H449.8" stroke="#0000ff" stroke-width="1.7" fill="none"/>
<rect x="434.9" y="106.9" width="12.8" height="12.8" fill="#0000ff"/>
<path d="M441.3 146.6V172.3M432.8 146.6H449.8M432.8 172.3H449.8" stroke="#fcba4c" stroke-width="1.7" fill="none"/>
<path d="M441.3 148.9L449.7 159.5L441.3 170.1L432.9 159.5Z" fill="#fcba4c"/>
<text transform="translate(493.50 70.70) scale(0.84 1.05)" x="-0.50" y="0" font-family="Liberation Serif, serif" font-style="italic" font-size="33">ν</text>
<path d="M515.60 58.30H533.10M515.60 65.60H533.10" stroke="#000" stroke-width="2.2"/>
<text x="542.85" y="70.45" font-family="Liberation Sans, sans-serif" font-size="34" fill="#000">3</text>
<text transform="translate(493.50 118.00) scale(0.84 1.05)" x="-0.50" y="0" font-family="Liberation Serif, serif" font-style="italic" font-size="33">ν</text>
<path d="M515.60 105.60H533.10M515.60 112.90H533.10" stroke="#000" stroke-width="2.2"/>
<text x="543.35" y="117.75" font-family="Liberation Sans, sans-serif" font-size="34" fill="#000">4/3</text>
<text transform="translate(493.50 165.10) scale(0.84 1.05)" x="-0.50" y="0" font-family="Liberation Serif, serif" font-style="italic" font-size="33">ν</text>
<path d="M515.60 152.70H533.10M515.60 160.00H533.10" stroke="#000" stroke-width="2.2"/>
<text x="542.35" y="164.85" font-family="Liberation Sans, sans-serif" font-size="34" fill="#000">2/3</text>
<path d="M397.9 203.8H415.2M432.1 203.8H449.7M466.6 203.8H484.1" stroke="#000" stroke-width="4"/>
<text x="491.75" y="213.50" font-family="Liberation Sans, sans-serif" font-size="32.5" fill="#000">Theory</text>
<g transform="translate(41 472) rotate(-90)"><text x="1.40" y="0.00" font-family="Liberation Sans, sans-serif" font-size="33" fill="#000">Δ</text><text x="23.20" y="0.00" font-family="Liberation Sans, sans-serif" font-size="33" fill="#000">S</text><text x="45.10" y="8.20" font-family="Liberation Sans, sans-serif" font-size="24" fill="#000">44</text><text x="81.30" y="0.00" font-family="Liberation Sans, sans-serif" font-size="33" fill="#000">(</text><text x="94.25" y="0.00" font-family="Liberation Sans, sans-serif" font-size="33" font-style="italic" fill="#000">f</text><text x="101.00" y="0.00" font-family="Liberation Sans, sans-serif" font-size="33" fill="#000">,</text><text x="116.45" y="0.00" font-family="Liberation Sans, sans-serif" font-size="33" fill="#000">V</text><text x="133.10" y="8.50" font-family="Liberation Sans, sans-serif" font-size="25" fill="#000">dc</text><text x="160.25" y="0.00" font-family="Liberation Sans, sans-serif" font-size="33" fill="#000">)</text><text x="172.50" y="-6.50" font-family="Liberation Sans, sans-serif" font-size="26" fill="#000">*</text><text x="185.60" y="0.00" font-family="Liberation Sans, sans-serif" font-size="33" font-style="italic" fill="#000">q</text><text x="205.80" y="0.00" font-family="Liberation Sans, sans-serif" font-size="33" fill="#000">/</text><text x="215.50" y="0.00" font-family="Liberation Sans, sans-serif" font-size="33" fill="#000">(</text><text x="228.10" y="0.00" font-family="Liberation Sans, sans-serif" font-size="33" font-style="italic" fill="#000">h</text><text x="246.55" y="0.00" font-family="Liberation Sans, sans-serif" font-size="33" font-style="italic" fill="#000">f</text><text x="258.95" y="0.00" font-family="Liberation Sans, sans-serif" font-size="33" fill="#000">)</text></g>
<text x="471.75" y="737.30" font-family="Liberation Sans, sans-serif" font-size="33" font-style="italic" fill="#000">f</text>
<text x="479.50" y="744.70" font-family="Liberation Sans, sans-serif" font-size="24" fill="#000">J</text>
<line x1="458.1" y1="750.1" x2="508.2" y2="750.1" stroke="#000" stroke-width="2.4"/>
<text x="480.35" y="789.30" font-family="Liberation Sans, sans-serif" font-size="33" font-style="italic" fill="#000">f</text>
<text x="524.85" y="762.00" font-family="Liberation Sans, sans-serif" font-size="35" fill="#000">=</text>
<line x1="555.3" y1="750.1" x2="653.2" y2="750.1" stroke="#000" stroke-width="2.4"/>
<text x="568.00" y="737.30" font-family="Liberation Sans, sans-serif" font-size="33" font-style="italic" fill="#000">qV</text>
<text x="606.80" y="745.00" font-family="Liberation Sans, sans-serif" font-size="33" fill="#000">dc</text>
<text x="592.10" y="788.80" font-family="Liberation Sans, sans-serif" font-size="33" font-style="italic" fill="#000">hf</text>
<path d="M132.8 1526.1v-9M132.8 875.4v9M297.8 1526.1v-9M297.8 875.4v9M462.9 1526.1v-9M462.9 875.4v9M627.9 1526.1v-9M627.9 875.4v9M793.0 1526.1v-9M793.0 875.4v9M958.0 1526.1v-9M958.0 875.4v9M132.8 1526.1h9M958.0 1526.1h-9M132.8 1433.1h9M958.0 1433.1h-9M132.8 1340.2h9M958.0 1340.2h-9M132.8 1247.2h9M958.0 1247.2h-9M132.8 1154.3h9M958.0 1154.3h-9M132.8 1061.3h9M958.0 1061.3h-9M132.8 968.3h9M958.0 968.3h-9M132.8 875.4h9M958.0 875.4h-9" stroke="#000" stroke-width="1.8" fill="none"/>
<g clip-path="url(#cb)">
<line x1="132.8" y1="1526.1" x2="974.5" y2="937.9" stroke="#0000ff" stroke-width="3.3" stroke-dasharray="10.8 10.94"/>
<line x1="132.8" y1="1526.1" x2="974.5" y2="1330.0" stroke="#ff0000" stroke-width="3.5" stroke-dasharray="10.8 10.92"/>
</g>
<path d="M421.6 1169.1V1326.5M413.9 1169.1H429.4M413.9 1326.5H429.4" stroke="#0000ff" stroke-width="1.5" fill="none"/>
<rect x="412.8" y="1238.9" width="17.7" height="17.7" fill="#0000ff"/>
<path d="M679.9 1107.7V1211.3M672.1 1107.7H687.6M672.1 1211.3H687.6" stroke="#0000ff" stroke-width="1.5" fill="none"/>
<rect x="671.2" y="1150.9" width="17.8" height="17.8" fill="#0000ff"/>
<path d="M793.0 939.4V1158.1M785.2 939.4H800.8M785.2 1158.1H800.8" stroke="#0000ff" stroke-width="1.5" fill="none"/>
<rect x="784.2" y="1040.1" width="17.6" height="17.6" fill="#0000ff"/>
<path d="M735.3 1081.1V1231.8M727.5 1081.1H743.0M727.5 1231.8H743.0" stroke="#fcba4c" stroke-width="1.6" fill="none"/>
<path d="M735.3 1143.3L745.7 1156.5L735.3 1169.7L724.9 1156.5Z" fill="#fcba4c" stroke="#ffe40a" stroke-width="1.8"/>
<circle cx="751.8" cy="1363.7" r="10.8" fill="#ff0000"/>
<path d="M917.0 1315.0V1338.7M909.1 1315.0H924.9M909.1 1338.7H924.9" stroke="#ff0000" stroke-width="1.5" fill="none"/>
<circle cx="917.0" cy="1327.5" r="10.8" fill="#ff0000"/>
<rect x="132.8" y="875.4" width="825.2" height="650.7" fill="none" stroke="#000" stroke-width="2.4"/>
<text x="116.3" y="1535.7" font-family="Liberation Sans, sans-serif" font-size="33" text-anchor="end">0</text>
<text x="116.3" y="1442.7" font-family="Liberation Sans, sans-serif" font-size="33" text-anchor="end">20</text>
<text x="116.3" y="1349.8" font-family="Liberation Sans, sans-serif" font-size="33" text-anchor="end">40</text>
<text x="116.3" y="1256.8" font-family="Liberation Sans, sans-serif" font-size="33" text-anchor="end">60</text>
<text x="116.3" y="1163.9" font-family="Liberation Sans, sans-serif" font-size="33" text-anchor="end">80</text>
<text x="116.3" y="1070.9" font-family="Liberation Sans, sans-serif" font-size="33" text-anchor="end">100</text>
<text x="116.3" y="977.9" font-family="Liberation Sans, sans-serif" font-size="33" text-anchor="end">120</text>
<text x="116.3" y="885.0" font-family="Liberation Sans, sans-serif" font-size="33" text-anchor="end">140</text>
<text x="134.0" y="1562" font-family="Liberation Sans, sans-serif" font-size="33" text-anchor="middle">0</text>
<text x="299.0" y="1562" font-family="Liberation Sans, sans-serif" font-size="33" text-anchor="middle">2</text>
<text x="464.1" y="1562" font-family="Liberation Sans, sans-serif" font-size="33" text-anchor="middle">4</text>
<text x="629.1" y="1562" font-family="Liberation Sans, sans-serif" font-size="33" text-anchor="middle">6</text>
<text x="794.2" y="1562" font-family="Liberation Sans, sans-serif" font-size="33" text-anchor="middle">8</text>
<text x="959.2" y="1562" font-family="Liberation Sans, sans-serif" font-size="33" text-anchor="middle">10</text>
<text x="-1.75" y="875.30" font-family="Liberation Sans, sans-serif" font-size="41" font-weight="bold" fill="#000">b</text>
<path d="M293.1 936.1V962.3M284.1 936.1H302.1M284.1 962.3H302.1" stroke="#ff0000" stroke-width="1.6" fill="none"/>
<circle cx="293.1" cy="949.4" r="9.7" fill="#ff0000"/>
<path d="M293.5 978.2V1003.6M285.0 978.2H302.0M285.0 1003.6H302.0" stroke="#0000ff" stroke-width="1.6" fill="none"/>
<rect x="285.9" y="983.2" width="15.2" height="15.2" fill="#0000ff"/>
<path d="M294.0 1018.4V1041.8M285.5 1018.4H302.5M285.5 1041.8H302.5" stroke="#fcba4c" stroke-width="1.6" fill="none"/>
<path d="M294.0 1020.0L302.9 1030.2L294.0 1040.5L285.1 1030.2Z" fill="#fcba4c"/>
<text transform="translate(326.50 956.90) scale(0.84 1.05)" x="-0.50" y="0" font-family="Liberation Serif, serif" font-style="italic" font-size="33">ν</text>
<path d="M348.60 944.50H365.90M348.60 951.80H365.90" stroke="#000" stroke-width="2.2"/>
<text x="376.05" y="956.65" font-family="Liberation Sans, sans-serif" font-size="34" fill="#000">3</text>
<text transform="translate(326.50 997.10) scale(0.84 1.05)" x="-0.50" y="0" font-family="Liberation Serif, serif" font-style="italic" font-size="33">ν</text>
<path d="M348.60 984.70H365.90M348.60 992.00H365.90" stroke="#000" stroke-width="2.2"/>
<text x="376.55" y="996.85" font-family="Liberation Sans, sans-serif" font-size="34" fill="#000">4/3</text>
<text transform="translate(326.50 1037.20) scale(0.84 1.05)" x="-0.50" y="0" font-family="Liberation Serif, serif" font-style="italic" font-size="33">ν</text>
<path d="M348.60 1024.80H365.90M348.60 1032.10H365.90" stroke="#000" stroke-width="2.2"/>
<text x="375.55" y="1036.95" font-family="Liberation Sans, sans-serif" font-size="34" fill="#000">2/3</text>
<path d="M248.7 1071.3H261.1M272.6 1071.3H285.7M298.8 1071.3H311.9M325 1071.3H338.1" stroke="#ff0000" stroke-width="3.6"/>
<path d="M248.7 1116.5H261.1M272.6 1116.5H285.7M298.8 1116.5H311.9M325 1116.5H338.1" stroke="#0000ff" stroke-width="3.6"/>
<text x="358.10" y="1081.00" font-family="Liberation Sans, sans-serif" font-size="33" font-style="italic" fill="#000">V</text>
<text x="377.50" y="1088.40" font-family="Liberation Sans, sans-serif" font-size="24" fill="#000">0</text>
<path d="M402.00 1068.60H419.50M402.00 1075.90H419.50" stroke="#000" stroke-width="2.2"/>
<text x="431.90" y="1081.00" font-family="Liberation Sans, sans-serif" font-size="33" font-style="italic" fill="#000">h</text>
<text x="445.95" y="1081.00" font-family="Liberation Sans, sans-serif" font-size="33" font-style="italic" fill="#000">f</text>
<text x="459.65" y="1081.00" font-family="Liberation Sans, sans-serif" font-size="33" font-style="italic" fill="#000">/</text>
<text x="471.50" y="1081.00" font-family="Liberation Sans, sans-serif" font-size="33" font-style="italic" fill="#000">e</text>
<text x="358.10" y="1124.00" font-family="Liberation Sans, sans-serif" font-size="33" font-style="italic" fill="#000">V</text>
<text x="377.50" y="1131.40" font-family="Liberation Sans, sans-serif" font-size="24" fill="#000">0</text>
<path d="M402.00 1111.60H419.50M402.00 1118.90H419.50" stroke="#000" stroke-width="2.2"/>
<text x="430.35" y="1123.80" font-family="Liberation Sans, sans-serif" font-size="33" fill="#000">3</text>
<text x="459.80" y="1124.00" font-family="Liberation Sans, sans-serif" font-size="33" font-style="italic" fill="#000">h</text>
<text x="473.85" y="1124.00" font-family="Liberation Sans, sans-serif" font-size="33" font-style="italic" fill="#000">f</text>
<text x="487.55" y="1124.00" font-family="Liberation Sans, sans-serif" font-size="33" font-style="italic" fill="#000">/</text>
<text x="499.80" y="1124.00" font-family="Liberation Sans, sans-serif" font-size="33" font-style="italic" fill="#000">e</text>
<g transform="translate(27.2 1256) rotate(-90)"><text x="-1.20" y="0.00" font-family="Liberation Sans, sans-serif" font-size="33" font-style="italic" fill="#000">V</text><text x="18.20" y="9.00" font-family="Liberation Sans, sans-serif" font-size="25" fill="#000">0</text><text x="51.20" y="0.00" font-family="Liberation Sans, sans-serif" font-size="33" fill="#000">(</text><text x="61.85" y="0.00" font-family="Liberation Serif, sans-serif" font-size="35" fill="#000">µ</text><text x="81.45" y="0.00" font-family="Liberation Sans, sans-serif" font-size="33" fill="#000">V</text><text x="104.35" y="0.00" font-family="Liberation Sans, sans-serif" font-size="33" fill="#000">)</text></g>
<text x="494.95" y="1607.00" font-family="Liberation Sans, sans-serif" font-size="33" font-style="italic" fill="#000">f</text>
<text x="511.40" y="1607.00" font-family="Liberation Sans, sans-serif" font-size="33" fill="#000">(GHz)</text>
</svg></body></html>
